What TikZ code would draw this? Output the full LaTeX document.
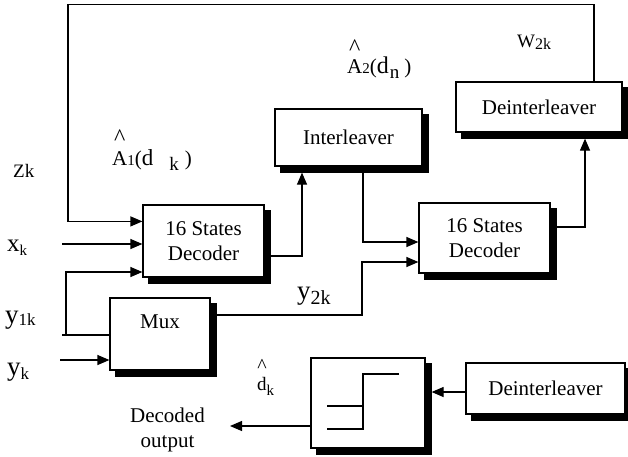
\documentclass[tikz,border=0pt]{standalone}
\usepackage{fontspec}
\setmainfont{Liberation Serif}
\usetikzlibrary{arrows.meta,calc}
\newcommand{\hatover}[3]{\ooalign{#3\cr\hidewidth\raisebox{#1}{\fontsize{#2}{#2}\selectfont\textasciicircum}\hidewidth\cr}}
\newcommand{\fs}[1]{\fontsize{#1}{#1}\selectfont}
\begin{document}
\begin{tikzpicture}[x=1pt,y=-1pt,
 blk/.style={draw=black, line width=1.2pt, fill=white, inner sep=0pt, align=center,
   font=\fontsize{21}{25}\selectfont},
 shadowline/.style={draw=black, line width=6pt, line join=miter, line cap=butt},
 ln/.style={line width=1.2pt},
 arr/.style={ln, -{Triangle[length=12pt,width=10pt]}},
 lbl/.style={inner sep=0pt, anchor=base west}]
\useasboundingbox (0,0) rectangle (628,456);

% blocks
\node[blk, minimum width=121pt, minimum height=72pt] (dec1) at (203.5,241) {16 States\\Decoder};
\node[blk, minimum width=131pt, minimum height=70pt] (dec2) at (484.5,238) {16 States\\Decoder};
\node[blk, minimum width=147pt, minimum height=57pt] (inter) at (348.5,137.5) {Interleaver};
\node[blk, minimum width=166pt, minimum height=50pt] (dint1) at (539,107) {Deinterleaver};
\node[blk, minimum width=100pt, minimum height=72pt] (mux) at (160,334) {Mux\\\mbox{}};
\node[blk, minimum width=114pt, minimum height=90pt] (dec) at (368,403) {};
\node[blk, minimum width=159pt, minimum height=51pt] (dint2) at (545.5,388.5) {Deinterleaver};

% black drop shadows on the right and bottom of each block (thick strokes)
\foreach \b in {dec1,dec2,inter,dint1,mux,dec,dint2}{
  \draw[shadowline] ($(\b.north east)+(3,6)$) -- ($(\b.south east)+(3,3)$) -- ($(\b.south west)+(6,3)$);
}

% step symbol in the decision box
\begin{scope}[shift={(dec.center)}]
  \draw[ln] (31,-29) -- (-5,-29) -- (-5,26) -- (-41,26);
  \draw[ln] (-41,3) -- (-5,3);
\end{scope}

% bend points
\coordinate (fbx) at (594,0);
\coordinate (toprow) at (0,4.5);
\coordinate (fbl) at (68,0);
\coordinate (d1a) at ($(dec1.north west)+(0,17)$);
\coordinate (xin) at (62,244);
\coordinate (y1in) at (62,335);
\coordinate (y1v) at (66,335);
\coordinate (y1t) at (66,272);
\coordinate (ykin) at (60,360);
\coordinate (j1) at (302,256);
\coordinate (j2) at (363,242);
\coordinate (j3) at (362,315);
\coordinate (j4) at (362,262);
\coordinate (j5) at (585,227);
\coordinate (j6) at (440,392);
\coordinate (outp) at (230,426);

% connectors
\draw[arr] (dint1.north -| fbx) -- (fbx |- toprow) -- (fbl |- toprow) -- (fbl |- d1a) -- (d1a);
\draw[arr] (xin) -- (xin -| dec1.west);
\draw[ln] (y1in) -- (y1in -| mux.west);
\draw[arr] (y1v) -- (y1t) -- (y1t -| dec1.west);
\draw[arr] (ykin) -- (ykin -| mux.west);
\draw[arr] (j1 -| dec1.east) -- (j1) -- ($(j1 |- inter.south)+(0,6)$);
\draw[arr] ($(j2 |- inter.south)+(0,6)$) -- (j2) -- (j2 -| dec2.west);
\draw[arr] ($(j3 -| mux.east)+(6,0)$) -- (j3) -- (j4) -- (j4 -| dec2.west);
\draw[arr] ($(j5 -| dec2.east)+(6,0)$) -- (j5) -- ($(j5 |- dint1.south)+(0,6)$);
\draw[arr] (j6 -| dint2.west) -- ($(j6 -| dec.east)+(6,0)$);
\draw[arr] (outp -| dec.west) -- (outp);

% labels
\node[lbl] (zk) at (13,177) {\fs{19}Zk};
\node[lbl] (xk) at (7,251) {\fs{25}x\raisebox{-4pt}{\fs{15}k}};
\node[lbl] (y1k) at (5,323) {\fs{27}y\raisebox{-2pt}{\fs{17}1k}};
\node[lbl] (yk) at (7,375) {\fs{27}y\raisebox{-4pt}{\fs{17}k}};
\node[lbl] (y2k) at (297,299) {\fs{27}y\raisebox{-5pt}{\fs{20}2k}};
\node[lbl] (w2k) at (517,47) {\fs{19}W\raisebox{-2pt}{\fs{16}2k}};
\node[lbl] (a1) at (112,165) {\fs{21}\hatover{20pt}{24}{A}\fs{15}1\fs{21}(\fs{23}d\hspace{16pt}\raisebox{-5pt}{\fs{19}k}\hspace{6pt}\fs{21})};
\node[lbl] (a2) at (347,73) {\fs{21}\hatover{18pt}{24}{A}\fs{15}2\fs{21}(\fs{24}d\hspace{1pt}\raisebox{-5pt}{\fs{19}n}\hspace{5pt}\fs{21})};
\node[lbl] (dk) at (257,390) {\fs{19}\hatover{18pt}{20}{d}\raisebox{-5pt}{\fs{15}k}};
\node[align=center, font=\fontsize{21}{25}\selectfont, inner sep=0pt] (outl) at (167.5,430) {Decoded\\output};
\end{tikzpicture}
\end{document}
